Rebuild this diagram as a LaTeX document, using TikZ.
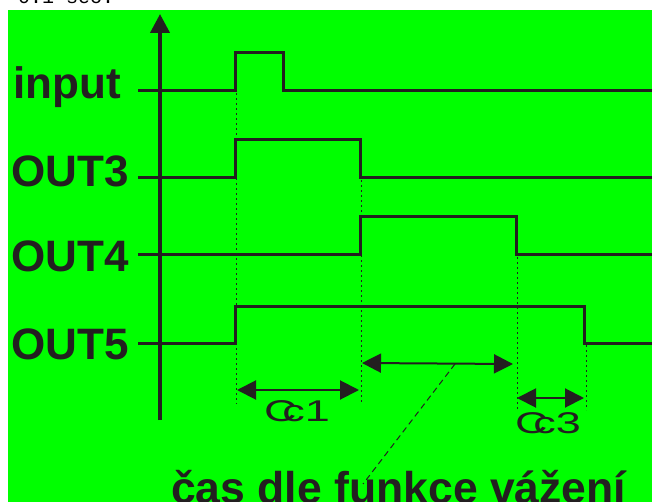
\documentclass[tikz,border=0pt]{standalone}
\usepackage{fontspec}
\setmainfont{Liberation Sans}
\newfontfamily\monofnt{Liberation Mono}
\usetikzlibrary{arrows.meta}
\definecolor{bggreen}{HTML}{00FF00}
\definecolor{ink}{HTML}{231F20}
\begin{document}
\begin{tikzpicture}[x=1pt,y=-1pt,
  sig/.style={ink, line width=3pt, line join=miter},
  guide/.style={ink, line width=1pt, dash pattern=on 2pt off 3pt},
  dimarrow/.style={ink, line width=2pt, {Triangle[length=19pt,width=19pt]}-{Triangle[length=19pt,width=19pt]}},
  lbl/.style={font=\fontsize{44}{44}\selectfont\bfseries, text=ink, inner sep=0pt, anchor=base west},
  cclbl/.style={font=\fontsize{30}{30}\selectfont, text=ink, inner sep=0pt, anchor=base},
  leader/.style={ink, line width=1pt, dash pattern=on 6pt off 4pt}
]
\useasboundingbox (0,0) rectangle (652,502);
\clip (0,0) rectangle (652,502);
\fill[white] (0,0) rectangle (652,502);
\node[font=\monofnt\fontsize{20}{20}\selectfont, inner sep=0pt, anchor=base west] (toptext) at (-6,4) {r 0.1 sec.};
\fill[bggreen] (8,10) rectangle (652,502);

% axis
\coordinate (axbot) at (160,420);
\coordinate (axtop) at (160,14);
\draw[ink, line width=4pt, -{Triangle[length=19pt,width=19pt]}] (axbot) -- (axtop);

% labels
\node[lbl] (linput) at (13,99) {input};
\node[lbl] (lout3) at (11,187) {OUT3};
\node[lbl] (lout4) at (11,272) {OUT4};
\node[lbl] (lout5) at (11,359) {OUT5};

% signals
\draw[sig] (138,91) -- (235,91) -- (235,53) -- (283,53) -- (283,91) -- (653,91);
\draw[sig] (138,178) -- (235,178) -- (235,140) -- (360,140) -- (360,178) -- (653,178);
\draw[sig] (138,255) -- (360,255) -- (360,217) -- (516,217) -- (516,255) -- (653,255);
\draw[sig] (138,343) -- (235,343) -- (235,306) -- (584,306) -- (584,343) -- (653,343);

% guide lines
\draw[guide] (236,93) -- (236,404);
\draw[guide] (361,180) -- (361,404);
\draw[guide] (517,257) -- (517,410);
\draw[guide] (586,345) -- (586,410);

% dimension arrows
\coordinate (c1a) at (237,390);
\coordinate (c1b) at (359,390);
\draw[dimarrow] (c1a) -- (c1b);
\node[cclbl] (cc1) at (297,421) {\scalebox{1.5}[1]{C\kern-0.32em c1}};

\coordinate (ma) at (362,363);
\coordinate (mb) at (513,364);
\draw[dimarrow] (ma) -- (mb);

\coordinate (c3a) at (517,398);
\coordinate (c3b) at (584,398);
\draw[dimarrow] (c3a) -- (c3b);
\node[cclbl] (cc3) at (548,433) {\scalebox{1.5}[1]{C\kern-0.32em c3}};

% bottom text and leader
\node[lbl, font=\fontsize{44.5}{44.5}\selectfont\bfseries] (bottom) at (171,503) {čas dle funkce vážení};
\coordinate (lp) at (455,364);
\coordinate (le) at (363,484);
\draw[leader] (lp) -- (le);
\end{tikzpicture}
\end{document}
